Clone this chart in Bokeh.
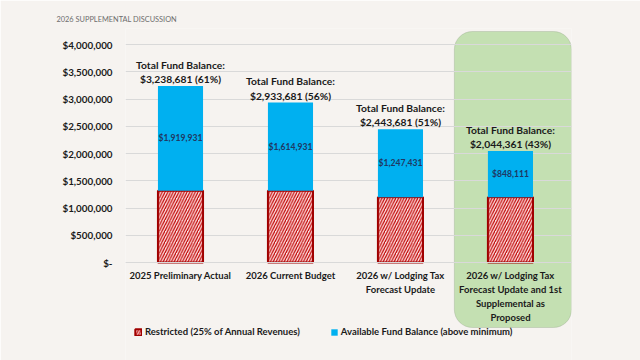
from bokeh.plotting import figure
from bokeh.models import (ColumnDataSource, Range1d, FixedTicker,
                          NumeralTickFormatter, BoxAnnotation, Legend, LegendItem)
from bokeh.core.properties import value
from bokeh.embed import file_html
from bokeh.resources import INLINE

# ---------------- data ----------------
title_text = "2026 SUPPLEMENTAL DISCUSSION"
category_labels = [
    "2025 Preliminary Actual",
    "2026 Current Budget",
    "2026 w/ Lodging Tax\nForecast Update",
    "2026 w/ Lodging Tax\nForecast Update and 1st\nSupplemental as\nProposed",
]
total_balance = [3238681, 2933681, 2443681, 2044361]
available = [1919931, 1614931, 1247431, 848111]
pct_of_revenue = [61, 56, 51, 43]
restricted = [t - a for t, a in zip(total_balance, available)]
y_ticks = [0, 500000, 1000000, 1500000, 2000000, 2500000, 3000000, 3500000, 4000000]
legend_labels = ["Restricted (25% of Annual Revenues)", "Available Fund Balance (above minimum)"]
highlight_index = 3   # category that is boxed in green

# ---------------- style ----------------
BG = "#f6f3f0"
FONT = "Lato"
BLUE = "#00b0f0"
RED = "#c00000"
DARK_RED = "#a00000"
TEXT = "#1a1a1a"

x_idx = list(range(len(category_labels)))
src = ColumnDataSource(dict(
    x=x_idx,
    restricted=restricted,
    total=total_balance,
    mid=[r + a / 2 for r, a in zip(restricted, available)],
    total_label=[f"Total Fund Balance:\n${t:,} ({p}%)" for t, p in zip(total_balance, pct_of_revenue)],
    avail_label=[f"${a:,}" for a in available],
))

p = figure(width=640, height=360, output_backend="svg", toolbar_location=None,
           x_range=Range1d(-0.5, 3.555),
           y_range=Range1d(-1798000, 4293600),
           min_border_left=125, min_border_right=69, min_border_top=28, min_border_bottom=0,
           background_fill_color=BG, border_fill_color=BG, outline_line_color=None)

# title
p.title.text = title_text
p.title.align = "left"
p.title.offset = -69
p.title.standoff = 7
p.title.vertical_align = "middle"
p.title.text_font = FONT
p.title.text_font_style = "normal"
p.title.text_font_size = "7.4px"
p.title.text_color = "#6e6e6e"

# highlight box behind the last category
box = BoxAnnotation(left=highlight_index - 0.51, right=highlight_index + 0.555,
                    top=4238500, bottom=-1192700,
                    fill_color="#c4e0b2", fill_alpha=1, line_color="#8a9d80", line_width=1,
                    border_radius=18, level="image")
p.add_layout(box)

r_res = p.vbar(x="x", top="restricted", bottom=0, width=0.41, source=src,
               fill_color="#fde2e2", hatch_pattern="/", hatch_color=RED,
               hatch_weight=1.2, hatch_scale=5.5,
               line_color=DARK_RED, line_width=2)
r_av = p.vbar(x="x", bottom="restricted", top="total", width=0.41, source=src,
              fill_color=BLUE, line_color=None)
p.text(x="x", y="total", text="total_label", source=src,
       text_align="center", text_baseline="bottom", y_offset=-1,
       text_font=value(FONT), text_font_style="bold", text_font_size="10.3px",
       text_color=TEXT, text_line_height=1.2)
p.text(x="x", y="mid", text="avail_label", source=src,
       text_align="center", text_baseline="middle",
       text_font=value(FONT), text_font_style="bold", text_font_size="8.6px",
       text_color="#1f3864")

# axes
p.yaxis.ticker = FixedTicker(ticks=y_ticks)
p.yaxis.formatter = NumeralTickFormatter(format="$0,0")
p.yaxis.major_label_overrides = {0: "$-"}
p.yaxis.axis_line_color = None
p.yaxis.major_tick_line_color = None
p.yaxis.minor_tick_line_color = None
p.yaxis.major_tick_out = 0
p.yaxis.major_label_standoff = 13
p.yaxis.major_label_text_font = FONT
p.yaxis.major_label_text_font_style = "bold"
p.yaxis.major_label_text_font_size = "9.8px"
p.yaxis.major_label_text_color = TEXT

p.xaxis.ticker = FixedTicker(ticks=x_idx)
p.xaxis.major_label_overrides = dict(zip(x_idx, category_labels))
p.xaxis.fixed_location = 0
p.xaxis.axis_line_color = "#d9d9d9"
p.xaxis.major_tick_line_color = None
p.xaxis.minor_tick_line_color = None
p.xaxis.major_tick_out = 0
p.xaxis.major_label_standoff = 7
p.xaxis.major_label_text_font = FONT
p.xaxis.major_label_text_font_style = "bold"
p.xaxis.major_label_text_font_size = "9.5px"
p.xaxis.major_label_text_color = TEXT
p.xaxis.major_label_text_line_height = 1.3

p.xgrid.grid_line_color = None
p.ygrid.ticker = FixedTicker(ticks=y_ticks)
p.ygrid.grid_line_color = "#d9d9d9"
p.ygrid.grid_line_width = 1

legend = Legend(items=[LegendItem(label=legend_labels[0], renderers=[r_res]),
                       LegendItem(label=legend_labels[1], renderers=[r_av])],
                orientation="horizontal", location=(9, 23),
                padding=0, margin=0, spacing=30, glyph_width=8, glyph_height=8,
                label_standoff=3, label_height=10,
                label_text_font=FONT, label_text_font_style="bold", label_text_font_size="9.5px",
                label_text_color=TEXT,
                background_fill_alpha=0, border_line_color=None)
p.add_layout(legend)

html = file_html(p, INLINE)
html = html.replace("<body>", f'<body style="background-color:{BG}">', 1)
open("out.html", "w").write(html)
